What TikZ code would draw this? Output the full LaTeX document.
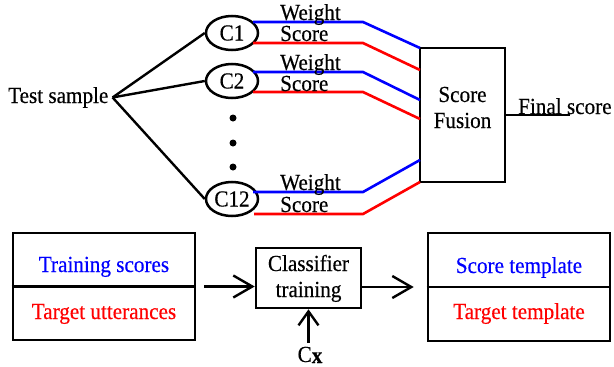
\documentclass[tikz,border=0pt]{standalone}
\usepackage{fontspec}
\setmainfont{Liberation Serif}[FakeStretch=0.92,FakeBold=0.4]
\usetikzlibrary{arrows.meta,shapes.geometric}
\begin{document}
\begin{tikzpicture}[x=1pt,y=-1pt, font=\fontsize{23}{27}\selectfont,
  ln/.style={line width=2.4pt},
  bl/.style={line width=2.6pt, draw={rgb,255:red,0;green,0;blue,255}},
  rd/.style={line width=2.6pt, draw={rgb,255:red,255;green,0;blue,0}},
  cls/.style={ellipse, draw, line width=2.5pt, minimum width=52pt, minimum height=34pt, inner sep=0pt},
  box/.style={draw, line width=2.6pt, inner sep=0pt},
  arr/.style={line width=2.4pt, -{Straight Barb[length=19pt,width=22pt]}},
  uparr/.style={line width=2.4pt, -{Straight Barb[length=14pt,width=20pt]}},
  txt/.style={inner sep=0pt, anchor=base}]
\useasboundingbox (0,0) rectangle (614,367);

% top part
\node[txt, anchor=base west] (ts) at (8,103) {Test sample};
\node[cls] (c1) at (232,33) {C1};
\node[cls] (c2) at (232,81) {C2};
\node[cls] (c12) at (232,199) {C12};
\draw[ln] ([xshift=4pt]ts.east) -- (c1.west);
\draw[ln] ([xshift=4pt]ts.east) -- (c2.west);
\draw[ln] ([xshift=4pt]ts.east) -- (c12.west);

\fill (233,118) circle (3.5pt);
\fill (233,143) circle (3.5pt);
\fill (233,167) circle (3.5pt);

\node[box, minimum width=85pt, minimum height=134pt] (F) at (462.5,115) {};
\node[txt] (ft1) at (462.5,102) {Score};
\node[txt] (ft2) at (462.5,128) {Fusion};

% line start points, bends and ends
\coordinate (w1a) at (253,22);  \coordinate (w1b) at (363,22);  \coordinate (w1c) at (420,48);
\coordinate (s1a) at (253,43);  \coordinate (s1b) at (363,43);  \coordinate (s1c) at (420,70);
\coordinate (w2a) at (253,72);  \coordinate (w2b) at (363,72);  \coordinate (w2c) at (420,100);
\coordinate (s2a) at (253,92);  \coordinate (s2b) at (363,92);  \coordinate (s2c) at (420,119);
\coordinate (w3a) at (253,192); \coordinate (w3b) at (363,192); \coordinate (w3c) at (420,160);
\coordinate (s3a) at (254,214); \coordinate (s3b) at (363,214); \coordinate (s3c) at (420,182);

\draw[bl] (w1a) -- (w1b) -- (w1c);
\draw[rd] (s1a) -- (s1b) -- (s1c);
\draw[bl] (w2a) -- (w2b) -- (w2c);
\draw[rd] (s2a) -- (s2b) -- (s2c);
\draw[bl] (w3a) -- (w3b) -- (w3c);
\draw[rd] (s3a) -- (s3b) -- (s3c);

\node[txt, anchor=base west] (lw1) at (280,20) {Weight};
\node[txt, anchor=base west] (ls1) at (280,41) {Score};
\node[txt, anchor=base west] (lw2) at (280,70) {Weight};
\node[txt, anchor=base west] (ls2) at (280,91) {Score};
\node[txt, anchor=base west] (lw3) at (280,190) {Weight};
\node[txt, anchor=base west] (ls3) at (280,212) {Score};

\coordinate (fe) at (570,115);
\draw[ln] (F.east) -- (fe);
\node[txt, anchor=base west] (fs) at (518,114) {Final score};

% bottom part
\node[box, minimum width=182pt, minimum height=107pt] (L) at (104,286.5) {};
\draw[ln] (L.west) -- (L.east);
\node[txt, text={rgb,255:red,0;green,0;blue,255}] (l1) at (104,272) {Training scores};
\node[txt, text={rgb,255:red,255;green,0;blue,0}] (l2) at (104,319) {Target utterances};

\node[box, minimum width=105pt, minimum height=60pt] (K) at (308.5,278) {};
\node[txt] (k1) at (308.5,271) {Classifier};
\node[txt] (k2) at (308.5,297) {training};

\node[box, minimum width=182pt, minimum height=108pt] (R) at (519,287) {};
\draw[ln] (R.west) -- (R.east);
\node[txt, text={rgb,255:red,0;green,0;blue,255}] (r1) at (519,273) {Score template};
\node[txt, text={rgb,255:red,255;green,0;blue,0}] (r2) at (519,319) {Target template};

\draw[arr, shorten <=8pt] (L.east) -- (L.east -| K.west);
\draw[arr, shorten >=13pt] (K.east |- R.west) -- (R.west);

\node[txt] (cx) at (310,362) {C\raisebox{-1pt}{\textbf{x}}};
\draw[uparr] (308.5,343) coordinate (cxa) -- (K.south);
\end{tikzpicture}
\end{document}
